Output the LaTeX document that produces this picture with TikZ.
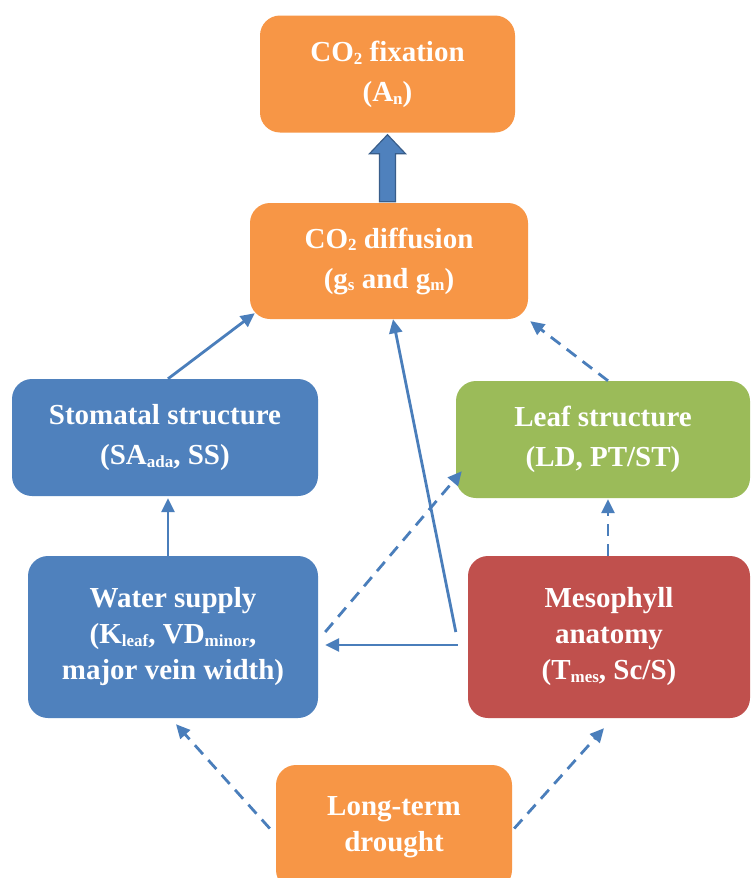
\documentclass[tikz,border=0pt]{standalone}
\usepackage{fontspec}
\setmainfont{Liberation Serif}
\usetikzlibrary{arrows.meta,calc}
\definecolor{corange}{HTML}{F79646}
\definecolor{cblue}{HTML}{4F81BD}
\definecolor{cgreen}{HTML}{9BBB59}
\definecolor{cred}{HTML}{C0504D}
\definecolor{carrow}{HTML}{4A7EBB}
\definecolor{cblockdraw}{HTML}{385D8A}
\newcommand\lsub[1]{\raisebox{-0.1em}{\fontsize{17}{17}\selectfont #1}}
\begin{document}
\begin{tikzpicture}[x=1pt,y=-1pt,
  box/.style={rounded corners=20pt, text=white, align=center, inner sep=0pt,
    font=\bfseries\fontsize{29}{40}\selectfont},
  tallbox/.style={box, font=\bfseries\fontsize{29}{36}\selectfont},
  conn/.style={draw=carrow, line width=2.8pt, -{Triangle[length=14pt,width=13pt]}},
  dconn/.style={conn, dash pattern=on 12pt off 8pt}]
\useasboundingbox (0,0) rectangle (752,878);
\fill[white] (0,0) rectangle (752,878);

\node[box, fill=corange, minimum width=255pt, minimum height=117pt] (fix) at (387.5,74)
  {CO\lsub{2} fixation\\(A\lsub{n})};
\node[box, fill=corange, minimum width=278pt, minimum height=116pt] (diff) at (389,261)
  {CO\lsub{2} diffusion\\(g\lsub{s} and g\lsub{m})};
\node[box, fill=cblue, minimum width=306pt, minimum height=117pt] (stom) at (165,437.5)
  {Stomatal structure\\(SA\lsub{ada}, SS)};
\node[box, fill=cgreen, minimum width=294pt, minimum height=117pt] (leaf) at (603,439.5)
  {Leaf structure\\(LD, PT/ST)};
\node[tallbox, fill=cblue, minimum width=290pt, minimum height=162pt] (water) at (173,637)
  {Water supply\\(K\lsub{leaf}, VD\lsub{minor},\\major vein width)};
\node[tallbox, fill=cred, minimum width=282pt, minimum height=162pt] (meso) at (609,637)
  {Mesophyll\\anatomy\\(T\lsub{mes}, Sc/S)};
\node[tallbox, fill=corange, minimum width=236pt, minimum height=125pt] (drought) at (394,827.5)
  {Long-term\\drought};

% block arrow diffusion -> fixation
\filldraw[fill=cblue, draw=cblockdraw, line width=1.2pt]
  ($(fix.south)+(0,2)$) -- ($(fix.south)+(18,21)$) -- ($(fix.south)+(8,21)$)
  -- ($(fix.south |- diff.north)+(8,-1)$) -- ($(fix.south |- diff.north)+(-8,-1)$)
  -- ($(fix.south)+(-8,21)$) -- ($(fix.south)+(-18,21)$) -- cycle;

% solid connectors
\draw[conn] ($(stom.north)+(3,0)$) -- ($(diff.south west)+(5,-6)$);
\draw[conn] ($(water.north)+(-5,0)$) -- ($(stom.south)+(3,2)$);
\draw[conn] ($(meso.west)+(-10,8)$) -- ($(water.east)+(7,8)$);
\draw[conn] ($(meso.west)+(-12,-5)$) -- ($(diff.south)+(4,0)$);

% dashed connectors
\draw[dconn] ($(water.east)+(7,-5)$) -- ($(leaf.south west)+(6,-27)$);
\draw[dconn] ($(leaf.north)+(5,0)$) -- ($(diff.south east)+(2,2)$);
\draw[dconn] ($(meso.north)+(-1,0)$) -- ($(leaf.south)+(5,1)$);
\draw[dconn] ($(drought.west)+(-6,1)$) -- ($(water.south)+(3,6)$);
\draw[dconn] ($(drought.east)+(2,1)$) -- ($(meso.south)+(-5,10)$);
\end{tikzpicture}
\end{document}
